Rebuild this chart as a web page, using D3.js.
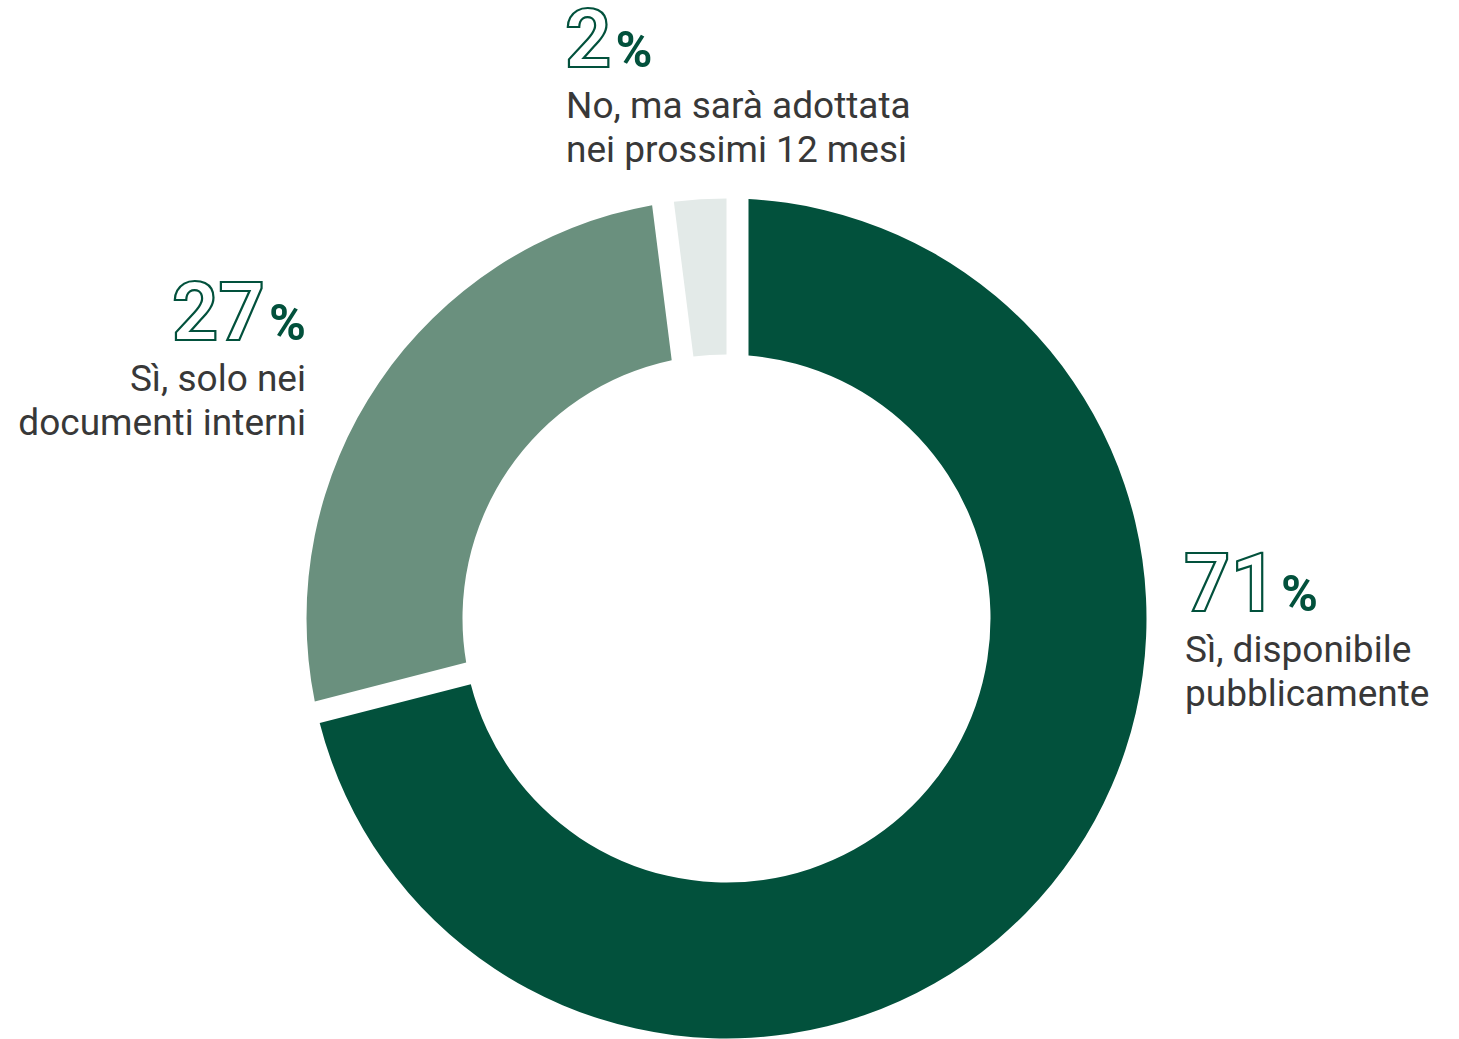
<!DOCTYPE html>
<html lang="it">
<head>
<meta charset="utf-8">
<script src="https://cdn.jsdelivr.net/npm/d3@7"></script>
<style>
  html, body { margin: 0; padding: 0; background: #ffffff; }
  svg { display: block; font-family: Roboto, "Noto Sans", sans-serif; }
</style>
</head>
<body>
<svg id="chart" width="1459" height="1039"></svg>
<script>
// Risposte e quote percentuali
const categories = [
  "Sì, disponibile pubblicamente",
  "Sì, solo nei documenti interni",
  "No, ma sarà adottata nei prossimi 12 mesi"
];
const values = [71, 27, 2];
const labelLines = [
  ["Sì, disponibile", "pubblicamente"],
  ["Sì, solo nei", "documenti interni"],
  ["No, ma sarà adottata", "nei prossimi 12 mesi"]
];

const colors = ["#02513c", "#6a907e", "#e3eae8"];
const GREEN = "#02513c";
const TEXT = "#383838";

const W = 1459, H = 1039;
const cx = 726.5, cy = 618.5;
const R = 420, r = 264;
const GAP = 22;

// white separators sit on one side of each boundary: [start pad, end pad]
const pads = [[GAP, 0], [GAP, GAP], [0, 0]];

const svg = d3.select("#chart");
const g = svg.append("g").attr("transform", `translate(${cx},${cy})`);

const pie = d3.pie().sort(null).value(d => d).startAngle(0).endAngle(2 * Math.PI);
const arcs = pie(values);

// annular sector whose straight edges run parallel to the boundary radius,
// shifted inwards by a fixed width
function sector(a0, a1, p0, p1) {
  const c = a => a - Math.PI / 2;
  const o0 = a0 + Math.asin(p0 / R), o1 = a1 - Math.asin(p1 / R);
  const i0 = a0 + Math.asin(p0 / r), i1 = a1 - Math.asin(p1 / r);
  const p = d3.path();
  p.moveTo(R * Math.cos(c(o0)), R * Math.sin(c(o0)));
  p.arc(0, 0, R, c(o0), c(o1), false);
  p.lineTo(r * Math.cos(c(i1)), r * Math.sin(c(i1)));
  p.arc(0, 0, r, c(i1), c(i0), true);
  p.closePath();
  return p.toString();
}

g.selectAll("path.slice")
  .data(arcs)
  .join("path")
  .attr("class", "slice")
  .attr("d", (d, i) => sector(d.startAngle, d.endAngle, pads[i][0], pads[i][1]))
  .attr("fill", (d, i) => colors[i]);

// label blocks, positioned at the baseline of the big number
const labelPos = [
  { x: 1184, y: 611, anchor: "start" },
  { x: 306, y: 340, anchor: "end" },
  { x: 565, y: 67, anchor: "start" }
];

labelPos.forEach((pos, i) => {
  const block = svg.append("g").attr("transform", `translate(${pos.x},${pos.y})`);
  const num = block.append("text")
    .attr("text-anchor", pos.anchor)
    .attr("x", 0).attr("y", 0);
  num.append("tspan")
    .text(d3.format("d")(values[i]))
    .attr("font-size", 81)
    .attr("font-weight", 700)
    .attr("fill", "#ffffff")
    .attr("stroke", GREEN)
    .attr("stroke-width", 2.2);
  num.append("tspan")
    .text("%")
    .attr("dx", 4)
    .attr("font-size", 50)
    .attr("font-weight", 700)
    .attr("fill", GREEN);

  labelLines[i].forEach((line, k) => {
    block.append("text")
      .attr("text-anchor", pos.anchor)
      .attr("x", pos.anchor === "start" ? 1 : 0)
      .attr("y", 51 + k * 44)
      .attr("font-size", 37)
      .attr("fill", TEXT)
      .text(line);
  });
});
</script>
</body>
</html>
